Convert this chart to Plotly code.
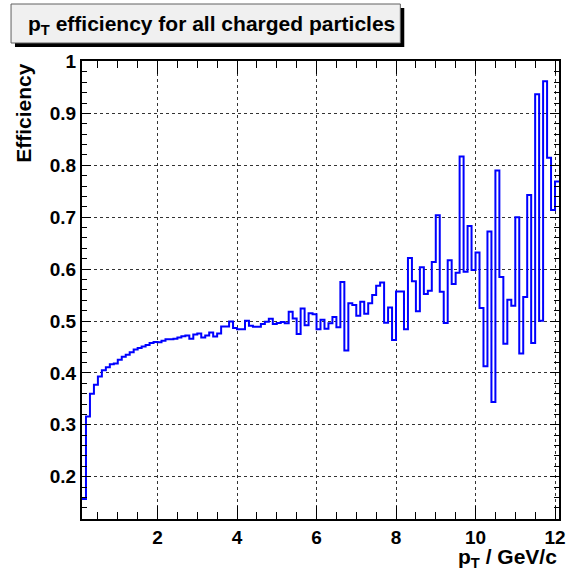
import plotly.graph_objects as go

# histogram definition
bin_low = 0.1
bin_width = 0.1
efficiency = [
    0.157, 0.316, 0.360, 0.377, 0.393, 0.405, 0.411, 0.4165, 0.418, 0.4255,
    0.431, 0.435, 0.440, 0.445, 0.448, 0.451, 0.454, 0.4576, 0.4595, 0.459,
    0.462, 0.4647, 0.4647, 0.466, 0.468, 0.4705, 0.472, 0.466, 0.474, 0.476,
    0.468, 0.472, 0.478, 0.470, 0.476, 0.4895, 0.4895, 0.499, 0.4865,
    0.484, 0.484, 0.5006, 0.491, 0.489, 0.489, 0.494, 0.4987, 0.5045, 0.494,
    0.496, 0.498, 0.4955, 0.518, 0.505, 0.475, 0.524, 0.492, 0.515, 0.513,
    0.484, 0.5026, 0.485, 0.4955, 0.5077, 0.488, 0.575, 0.443, 0.534, 0.531,
    0.510, 0.537, 0.514, 0.534, 0.550, 0.568, 0.574, 0.4968, 0.526, 0.4634,
    0.557, 0.557, 0.484, 0.6215, 0.5765, 0.519, 0.6035, 0.552, 0.5585, 0.6137,
    0.7037, 0.5566, 0.496, 0.617, 0.5714, 0.5932, 0.817, 0.595, 0.683, 0.5983,
    0.632, 0.525, 0.4128, 0.6724, 0.344, 0.790, 0.5846, 0.4564, 0.541, 0.5295,
    0.700, 0.4372, 0.5462, 0.743, 0.4577, 0.937, 0.5006, 0.962, 0.8147, 0.714,
    0.7686,
]
title_text = "p<sub>T</sub> efficiency for all charged particles"
x_title = "p<sub>T</sub> / GeV/c"
y_title = "Efficiency"
x_range = [0.1, 12.1]
y_range = [0.1185, 1.001]

n = len(efficiency)
edges = [bin_low + i * bin_width for i in range(n + 1)]
xs = edges
ys = efficiency + [efficiency[-1]]

FONT = "Liberation Sans, Arial, Helvetica, sans-serif"

fig = go.Figure()
fig.add_trace(go.Scatter(
    x=xs, y=ys, mode="lines", line=dict(shape="hv", color="#0000ff", width=2),
    hoverinfo="skip", showlegend=False,
))

axis_common = dict(
    showline=True, linecolor="black", linewidth=2, mirror="allticks",
    ticks="inside", tickcolor="black", tickwidth=1,
    showgrid=True, gridcolor="#333333", griddash="dot", gridwidth=1,
    zeroline=False,
    tickfont=dict(family=FONT, size=19, color="black", weight="bold"),
)

fig.update_xaxes(
    range=x_range, tick0=0, dtick=2, ticklen=13,
    minor=dict(ticks="inside", dtick=0.5, tick0=0, ticklen=7, tickcolor="black", showgrid=False),
    **axis_common,
)
fig.update_yaxes(
    range=y_range, tick0=0, dtick=0.1, ticklen=9,
    minor=dict(ticks="inside", dtick=0.02, tick0=0, ticklen=5, tickcolor="black", showgrid=False),
    **axis_common,
)

W, H = 571, 570
L, R, T, B = 82, 5, 61, 51
pw, ph = W - L - R, H - T - B

def px(xp):
    return (xp - L) / pw

def py(yp):
    return (H - B - yp) / ph

# title box with shadow
fig.add_shape(type="rect", xref="paper", yref="paper",
              x0=px(14), x1=px(409), y0=py(47), y1=py(8),
              fillcolor="black", line=dict(width=0), layer="above")
fig.add_shape(type="rect", xref="paper", yref="paper",
              x0=px(10), x1=px(405), y0=py(43), y1=py(4),
              fillcolor="#f0f0f0", line=dict(color="#606060", width=1), layer="above")

fig.add_annotation(text=title_text, xref="paper", yref="paper",
                   x=px(25), y=py(25), xanchor="left", yanchor="middle",
                   showarrow=False,
                   font=dict(family=FONT, size=21, color="black", weight="bold"))
fig.add_annotation(text=x_title, xref="paper", yref="paper",
                   x=1.0, y=py(558), xanchor="right", yanchor="middle",
                   showarrow=False,
                   font=dict(family=FONT, size=21, color="black", weight="bold"))
fig.add_annotation(text=y_title, xref="paper", yref="paper",
                   x=px(22), y=1.0, xanchor="center", yanchor="top",
                   textangle=-90, showarrow=False,
                   font=dict(family=FONT, size=21, color="black", weight="bold"))

fig.update_layout(
    width=W, height=H,
    margin=dict(l=L, r=R, t=T, b=B, pad=0),
    paper_bgcolor="white", plot_bgcolor="white",
    showlegend=False,
)

fig.write_html("out.html")
